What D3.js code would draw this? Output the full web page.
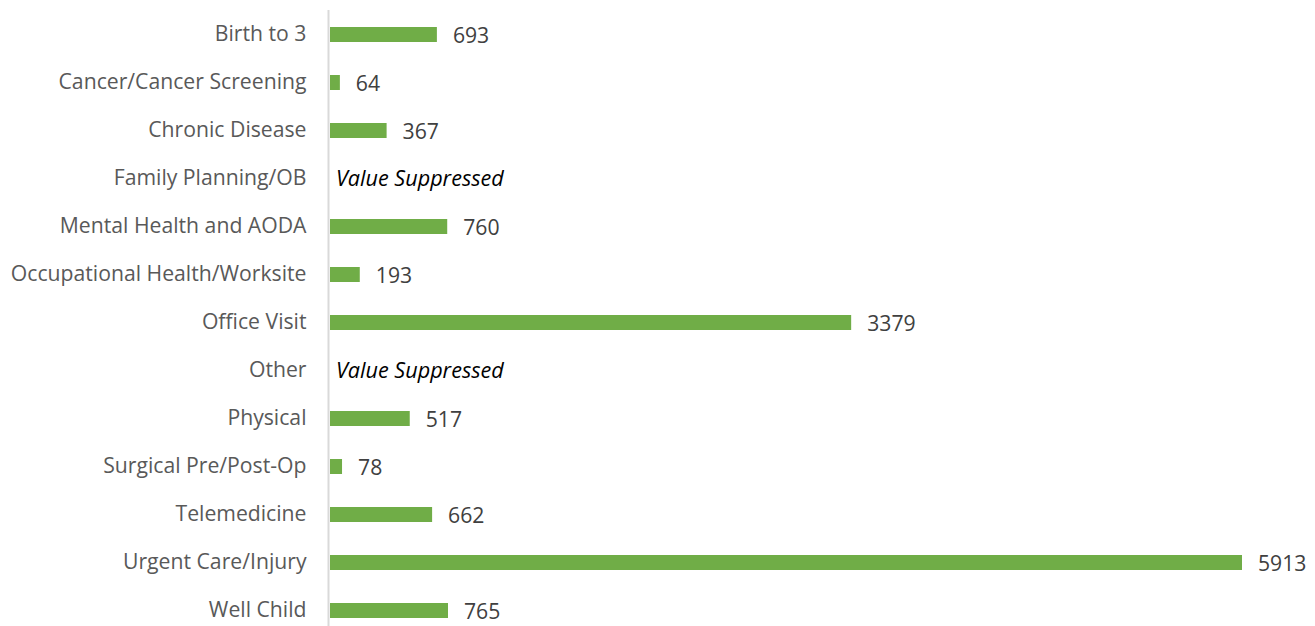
<!DOCTYPE html>
<html>
<head>
<meta charset="utf-8">
<script src="https://cdn.jsdelivr.net/npm/d3@7"></script>
<style>
    body { margin: 0; background: #fff; }
    svg { display: block; font-family: "Open Sans", sans-serif; }
</style>
</head>
<body>
<svg class="bar-chart"></svg>
<script>
'use strict';

// categories, top to bottom
var categories = [
    'Birth to 3', 'Cancer/Cancer Screening', 'Chronic Disease', 'Family Planning/OB',
    'Mental Health and AODA', 'Occupational Health/Worksite', 'Office Visit', 'Other',
    'Physical', 'Surgical Pre/Post-Op', 'Telemedicine', 'Urgent Care/Injury', 'Well Child'
];
// null = value suppressed
var visits = [693, 64, 367, null, 760, 193, 3379, null, 517, 78, 662, 5913, 765];
var suppressedLabel = 'Value Suppressed';

var svgWidth = 1315,
    svgHeight = 626,
    margin = { top: 10.5, left: 330, right: 73 };

var svg = d3.select('svg.bar-chart')
    .attr('width', svgWidth)
    .attr('height', svgHeight);

var data = categories.map(function(c, i) { return { name: c, value: visits[i] }; });

var xScale = d3.scaleLinear()
    .domain([0, 5913])
    .range([margin.left, 1242]);

var yScale = d3.scaleBand()
    .domain(categories)
    .range([margin.top, margin.top + 48 * 13])
    .paddingInner(0.6875)
    .paddingOuter(0.34375);

// category axis
var yAxis = d3.axisLeft(yScale).tickSize(0).tickPadding(22);
var gy = svg.append('g')
    .attr('transform', 'translate(' + (margin.left - 1.5) + ',0)')
    .call(yAxis);
gy.select('.domain').remove();
gy.selectAll('text')
    .attr('font-family', '"Open Sans", sans-serif')
    .attr('font-size', 21.2)
    .attr('fill', '#595959');

svg.append('line')
    .attr('x1', margin.left - 1.5).attr('x2', margin.left - 1.5)
    .attr('y1', 10).attr('y2', svgHeight)
    .attr('stroke', '#d9d9d9')
    .attr('stroke-width', 2);

var shown = data.filter(function(d) { return d.value !== null; });

svg.append('g').selectAll('rect')
    .data(shown)
    .enter().append('rect')
    .attr('x', xScale(0))
    .attr('y', function(d) { return yScale(d.name); })
    .attr('width', function(d) { return xScale(d.value) - xScale(0); })
    .attr('height', yScale.bandwidth())
    .attr('fill', '#70ad47');

svg.append('g').selectAll('text')
    .data(shown)
    .enter().append('text')
    .attr('x', function(d) { return xScale(d.value) + 16; })
    .attr('y', function(d) { return yScale(d.name) + yScale.bandwidth() / 2 + 1; })
    .attr('dy', '0.35em')
    .attr('font-size', 21.2)
    .attr('fill', '#404040')
    .text(function(d) { return d.value; });

svg.append('g').selectAll('text')
    .data(data.filter(function(d) { return d.value === null; }))
    .enter().append('text')
    .attr('x', xScale(0) + 6)
    .attr('y', function(d) { return yScale(d.name) + yScale.bandwidth() / 2; })
    .attr('dy', '0.35em')
    .attr('font-size', 21.6)
    .attr('font-style', 'italic')
    .attr('fill', '#000')
    .text(suppressedLabel);
</script>
</body>
</html>
